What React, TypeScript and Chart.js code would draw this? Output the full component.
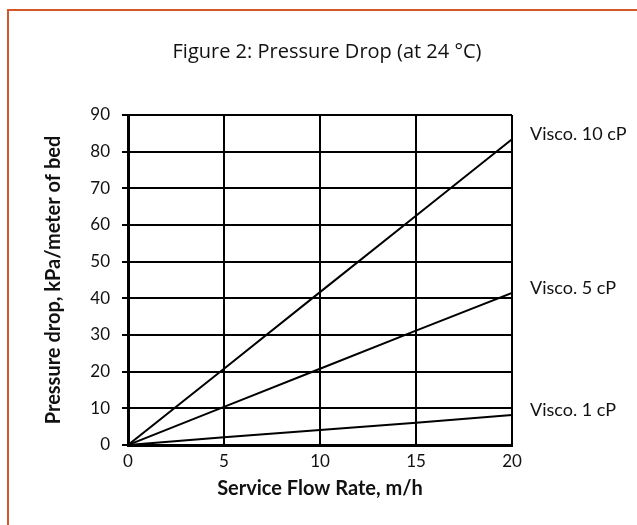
import React, { useEffect, useRef } from "react";
import { Chart, registerables } from "chart.js";

Chart.register(...registerables);

const flowRates = [0, 5, 10, 15, 20];
const visco10 = [0, 20.8, 41.7, 62.5, 83.4];
const visco5 = [0, 10.4, 20.8, 31.2, 41.5];
const visco1 = [0, 2.1, 4.1, 6.1, 8.2];
const seriesLabels = ["Visco. 10 cP", "Visco. 5 cP", "Visco. 1 cP"];
const chartTitle = "Figure 2: Pressure Drop (at 24 \u00B0C)";
const xTitle = "Service Flow Rate, m/h";
const yTitle = "Pressure drop, kPa/meter of bed";

const FONT = "Lato, 'Open Sans', sans-serif";
const TITLE_FONT = "'Open Sans', Lato, sans-serif";

const toPoints = (vals: number[]) => flowRates.map((x, i) => ({ x, y: vals[i] }));

const titlePlugin = {
  id: "customTitle",
  afterDraw(chart: any) {
    const ctx = chart.ctx;
    ctx.save();
    ctx.font = `20px ${TITLE_FONT}`;
    ctx.fillStyle = "#111";
    ctx.textAlign = "center";
    ctx.textBaseline = "alphabetic";
    ctx.fillText(chartTitle, 327, 58);
    ctx.restore();
  },
};

const endLabelPlugin = {
  id: "endLabels",
  afterDatasetsDraw(chart: any) {
    const ctx = chart.ctx;
    const yScale = chart.scales.y;
    const area = chart.chartArea;
    ctx.save();
    ctx.font = `18px ${FONT}`;
    ctx.fillStyle = "#111";
    ctx.textAlign = "left";
    ctx.textBaseline = "middle";
    chart.data.datasets.forEach((ds: any) => {
      const last = ds.data[ds.data.length - 1];
      const y = yScale.getPixelForValue(last.y) - 5;
      ctx.fillText(ds.label, area.right + 18, y);
    });
    ctx.restore();
  },
};

export default function App() {
  const canvasRef = useRef<HTMLCanvasElement | null>(null);

  useEffect(() => {
    if (!canvasRef.current) return;
    const lineStyle = {
      borderColor: "#000",
      borderWidth: 2,
      pointRadius: 0,
      fill: false,
      tension: 0,
    };
    const chart = new Chart(canvasRef.current, {
      type: "line",
      data: {
        datasets: [
          { label: seriesLabels[0], data: toPoints(visco10), ...lineStyle },
          { label: seriesLabels[1], data: toPoints(visco5), ...lineStyle },
          { label: seriesLabels[2], data: toPoints(visco1), ...lineStyle },
        ],
      },
      options: {
        responsive: false,
        animation: false,
        layout: { padding: { left: 0, right: 125, top: 115, bottom: 0 } },
        plugins: {
          legend: { display: false },
          title: { display: false },
          tooltip: { enabled: false },
        },
        scales: {
          x: {
            type: "linear",
            min: 0,
            max: 20,
            ticks: {
              stepSize: 5,
              color: "#111",
              padding: 6,
              font: { family: FONT, size: 17 },
            },
            grid: { color: "#000", lineWidth: 2, drawTicks: false },
            border: { color: "#000", width: 3 },
            title: {
              display: true,
              text: xTitle,
              color: "#111",
              font: { family: FONT, size: 20, weight: "bold" },
              padding: { top: 0, bottom: 24 },
            },
            afterFit(scale: any) {
              scale.height = 80;
            },
          },
          y: {
            type: "linear",
            min: 0,
            max: 90,
            ticks: {
              stepSize: 10,
              color: "#111",
              padding: 12,
              font: { family: FONT, size: 17 },
            },
            grid: { color: "#000", lineWidth: 2, tickLength: 6 },
            border: { color: "#000", width: 3 },
            title: {
              display: true,
              text: yTitle,
              color: "#111",
              font: { family: FONT, size: 20, weight: "bold" },
              padding: { top: 42, bottom: 0 },
            },
            afterFit(scale: any) {
              scale.width = 128;
            },
          },
        },
      },
      plugins: [titlePlugin, endLabelPlugin],
    } as any);
    return () => chart.destroy();
  }, []);

  return (
    <div
      style={{
        position: "absolute",
        left: 0,
        top: 0,
        width: 637,
        height: 525,
        overflow: "hidden",
        background: "#fff",
      }}
    >
      <div
        style={{
          position: "absolute",
          left: 7,
          top: 9,
          width: 800,
          height: 800,
          borderLeft: "2px solid #D4572A",
          borderTop: "2px solid #D4572A",
        }}
      />
      <canvas
        ref={canvasRef}
        width={637}
        height={525}
        style={{ position: "absolute", left: 0, top: 0 }}
      />
    </div>
  );
}
